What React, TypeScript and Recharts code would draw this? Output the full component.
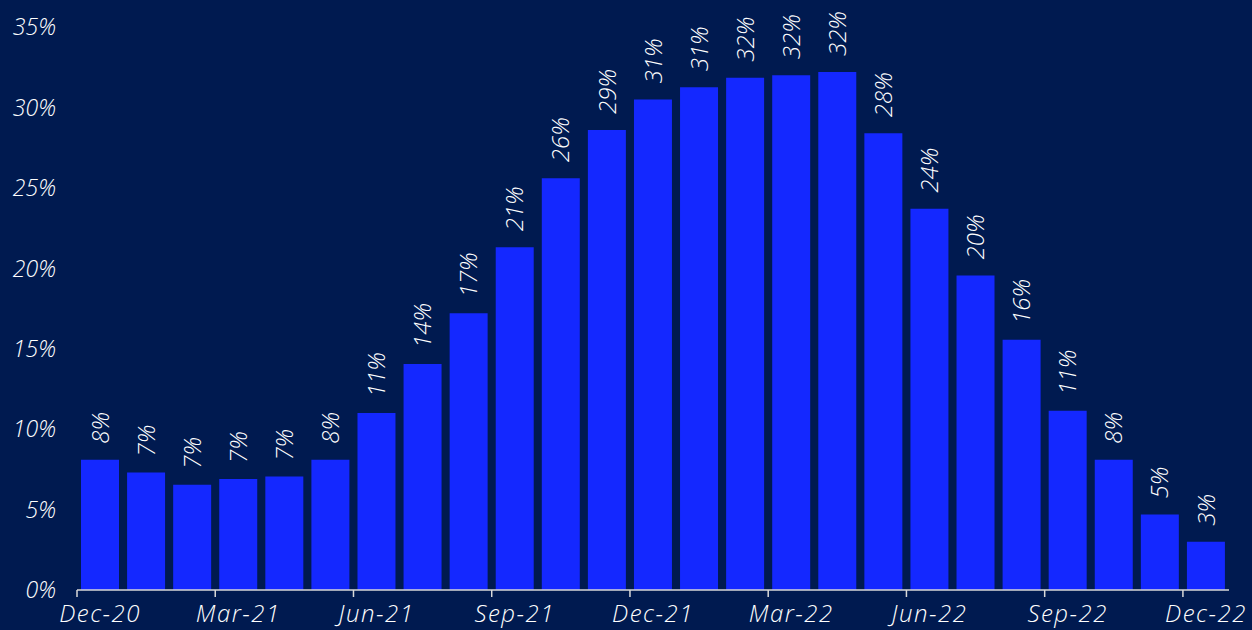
import React from "react";
import { BarChart, Bar, XAxis, YAxis, LabelList } from "recharts";

const categories = [
  "Dec-20", "Jan-21", "Feb-21", "Mar-21", "Apr-21", "May-21", "Jun-21", "Jul-21", "Aug-21",
  "Sep-21", "Oct-21", "Nov-21", "Dec-21", "Jan-22", "Feb-22", "Mar-22", "Apr-22", "May-22",
  "Jun-22", "Jul-22", "Aug-22", "Sep-22", "Oct-22", "Nov-22", "Dec-22",
];
const values = [
  8.1, 7.3, 6.55, 6.9, 7.05, 8.1, 11.0, 14.05, 17.2, 21.3, 25.6, 28.6, 30.5, 31.25, 31.85,
  32.0, 32.2, 28.4, 23.7, 19.55, 15.55, 11.15, 8.1, 4.7, 3.0,
];
const yTicks = [0, 5, 10, 15, 20, 25, 30, 35];

const data = categories.map((c, i) => ({ month: c, value: values[i] }));

const W = 1252;
const H = 630;
const M = { top: 27, right: 23, left: 0, bottom: 0 };
const Y_W = 77;
const BAND = (W - Y_W - M.right) / categories.length;
const BG = "#001A50";
const BAR = "#1428FF";
const FONT = "'Open Sans', 'Noto Sans', sans-serif";

const YTick = (props: any) => {
  const { y, payload } = props;
  return (
    <text x={56} y={y} dy="0.36em" textAnchor="end" fill="#fff" fontStyle="italic" fontWeight={300} fontSize={23} fontFamily={FONT}>
      {`${payload.value}%`}
    </text>
  );
};

const XTick = (props: any) => {
  const { x, y, payload } = props;
  const tx = x - BAND / 2;
  return (
    <g>
      <line x1={tx} x2={tx} y1={y} y2={y + 7} stroke="#d9d9d9" strokeWidth={1.5} />
      <text x={x} y={y + 32} textAnchor="middle" fill="#fff" fontStyle="italic" fontWeight={300} fontSize={24} letterSpacing={1.5} fontFamily={FONT}>
        {payload.value}
      </text>
    </g>
  );
};

const BarLabel = (props: any) => {
  const { x, y, width, value } = props;
  const cx = Number(x) + Number(width) / 2;
  const ty = Number(y) - 16;
  return (
    <text
      transform={`translate(${cx}, ${ty}) rotate(-90)`}
      textAnchor="start"
      dy="0.36em"
      fill="#fff"
      fontStyle="italic"
      fontWeight={300}
      fontSize={24}
      fontFamily={FONT}
    >
      {`${Math.round(value)}%`}
    </text>
  );
};

export default function App() {
  return (
    <div style={{ position: "absolute", left: 0, top: 0, width: W, height: H, background: BG }}>
      <BarChart width={W} height={H} data={data} margin={M} barCategoryGap={4}>
        <YAxis
          width={Y_W}
          domain={[0, 35]}
          ticks={yTicks}
          axisLine={false}
          tickLine={false}
          tick={<YTick />}
          interval={0}
        />
        <XAxis
          dataKey="month"
          height={40}
          interval={2}
          tickSize={0}
          tickMargin={0}
          tickLine={false}
          axisLine={{ stroke: "#d9d9d9", strokeWidth: 1.5 }}
          tick={<XTick />}
        />
        <Bar dataKey="value" fill={BAR} isAnimationActive={false}>
          <LabelList dataKey="value" content={<BarLabel />} />
        </Bar>
      </BarChart>
    </div>
  );
}
